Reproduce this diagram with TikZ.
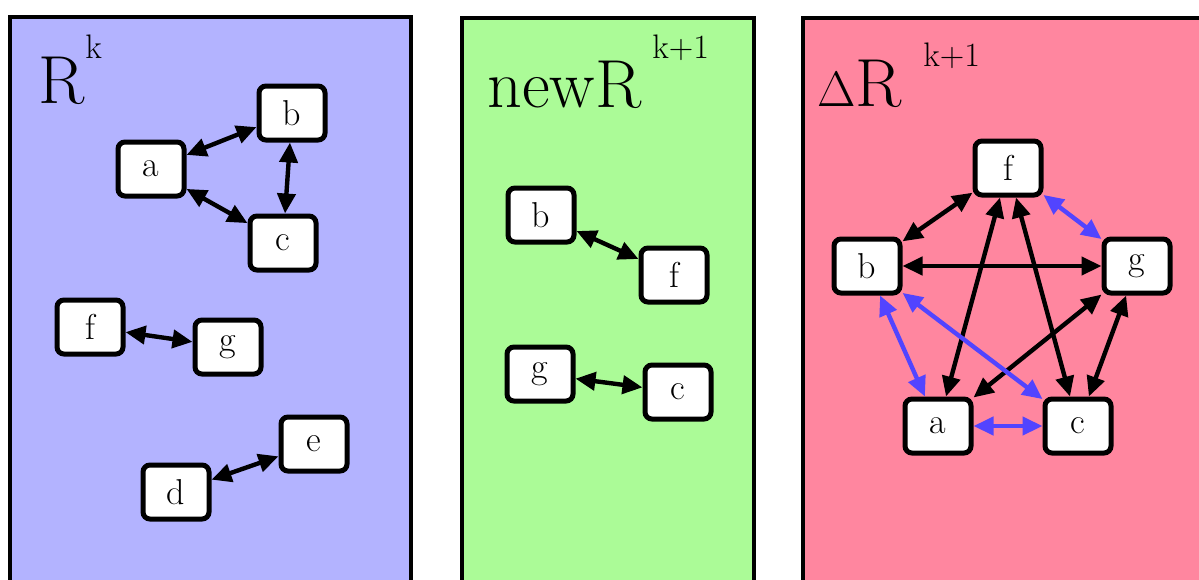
\documentclass[tikz,border=0pt]{standalone}
\usetikzlibrary{arrows.meta}
\definecolor{pblue}{RGB}{179,179,255}
\definecolor{pgreen}{RGB}{171,251,151}
\definecolor{ppink}{RGB}{255,134,159}
\definecolor{eblue}{RGB}{82,68,255}
\begin{document}
\begin{tikzpicture}[x=0.5pt,y=-0.5pt,
  panel/.style={draw=black,line width=2pt},
  vtx/.style={draw=black,fill=white,line width=2.5pt,rounded corners=3.5pt,minimum width=33pt,minimum height=27pt,inner sep=0pt,font=\fontsize{18}{20}\selectfont},
  conn/.style={line width=2.2pt,{Triangle[length=10pt,width=9pt]}-{Triangle[length=10pt,width=9pt]}},
  bconn/.style={conn,draw=eblue,fill=eblue},
  title/.style={anchor=base west,inner sep=0pt,font=\fontsize{34}{40}\selectfont},
  sup/.style={anchor=base west,inner sep=0pt,font=\fontsize{17}{20}\selectfont}]
\useasboundingbox (0,0) rectangle (1199,579);
\clip (0,0) rectangle (1199,579);
\fill[white] (0,0) rectangle (1199,579);
% panels
\draw[panel,fill=pblue] (10,17) rectangle (410.5,640);
\draw[panel,fill=pgreen] (461.5,18) rectangle (753.5,640);
\draw[panel,fill=ppink] (802.5,18) rectangle (1260,640);
% titles
\node[title] (t1) at (38,103) {R};
\node[sup] (s1) at (85,58) {k};
\node[title] (t2) at (487,107) {newR};
\node[sup] (s2) at (652,58) {k+1};
\node[title] (t3) at (817,106) {$\Delta$R};
\node[sup] (s3) at (923,66) {k+1};
% panel 1
\node[vtx] (a1) at (151,169) {a};
\node[vtx] (b1) at (292,113) {b};
\node[vtx] (c1) at (283,243) {c};
\node[vtx] (f1) at (90,327) {f};
\node[vtx] (g1) at (228,347) {g};
\node[vtx] (d1) at (176,492) {d};
\node[vtx] (e1) at (314,444) {e};
\draw[conn] (a1) -- (b1);
\draw[conn] (a1) -- (c1);
\draw[conn] (b1) -- (c1);
\draw[conn] (f1) -- (g1);
\draw[conn] (d1) -- (e1);
% panel 2
\node[vtx] (b2) at (541,215) {b};
\node[vtx] (f2) at (674,275) {f};
\node[vtx] (g2) at (540,374) {g};
\node[vtx] (c2) at (678,392) {c};
\draw[conn] (b2) -- (f2);
\draw[conn] (g2) -- (c2);
% panel 3
\node[vtx] (f3) at (1008,168) {f};
\node[vtx] (b3) at (867,266) {b};
\node[vtx] (g3) at (1137,266) {g};
\node[vtx] (a3) at (938,426) {a};
\node[vtx] (c3) at (1078,426) {c};
\draw[conn] (f3) -- (b3);
\draw[conn] (f3) -- (a3);
\draw[conn] (f3) -- (c3);
\draw[conn] (b3) -- (g3);
\draw[conn] (g3) -- (a3);
\draw[conn] (g3) -- (c3);
\draw[bconn] (f3) -- (g3);
\draw[bconn] (b3) -- (a3);
\draw[bconn] (b3) -- (c3);
\draw[bconn] (a3) -- (c3);
\end{tikzpicture}
\end{document}
